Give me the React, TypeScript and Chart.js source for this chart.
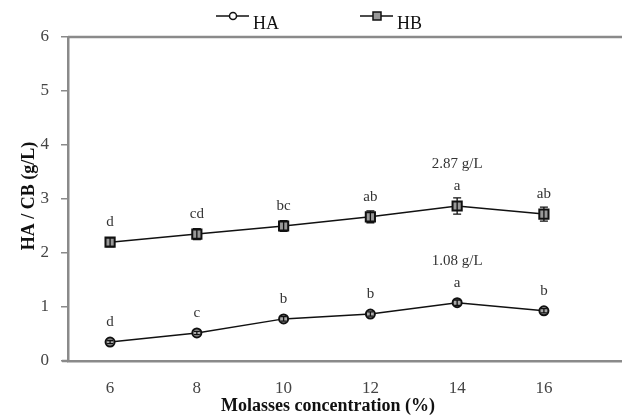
import React, { useEffect, useRef } from "react";
import { Chart, registerables } from "chart.js";

Chart.register(...registerables);

const concentrations = [6, 8, 10, 12, 14, 16];
const xTickLabels = [6, 8, 10, 12, 14, 16];
const yTickLabels = [0, 1, 2, 3, 4, 5, 6];
const haValues = [0.35, 0.52, 0.78, 0.87, 1.08, 0.93];
const hbValues = [2.2, 2.35, 2.5, 2.67, 2.87, 2.72];
const haErrors = [0.03, 0.03, 0.04, 0.04, 0.05, 0.04];
const hbErrors = [0.08, 0.1, 0.1, 0.11, 0.15, 0.13];
const haLetters = ["d", "c", "b", "b", "a", "b"];
const hbLetters = ["d", "cd", "bc", "ab", "a", "ab"];
const haPeakLabel = ["", "", "", "", "1.08 g/L", ""];
const hbPeakLabel = ["", "", "", "", "2.87 g/L", ""];
const seriesNames = ["HA", "HB"];
const xTitle = "Molasses concentration (%)";
const yTitle = "HA / CB (g/L)";

const SERIF = "'Liberation Serif', 'Times New Roman', serif";
const AXIS_GRAY = "#8a8a8a";

const decorPlugin = {
  id: "decor",
  beforeDatasetsDraw(chart: any) {
    const ctx = chart.ctx;
    const { left, right, top, bottom } = chart.chartArea;
    ctx.save();
    ctx.strokeStyle = AXIS_GRAY;
    ctx.lineWidth = 2.5;
    ctx.beginPath();
    ctx.moveTo(left, top);
    ctx.lineTo(right, top);
    ctx.stroke();
    ctx.beginPath();
    ctx.moveTo(left - 6, bottom);
    ctx.lineTo(left, bottom);
    ctx.stroke();
    ctx.restore();
  },
  afterDatasetsDraw(chart: any) {
    const ctx = chart.ctx;
    const xs = chart.scales.x;
    const ys = chart.scales.y;
    ctx.save();
    const errs = [haErrors, hbErrors];
    const vals = [haValues, hbValues];
    const capW = [3, 4];
    errs.forEach((err, d) => {
      ctx.strokeStyle = "#111";
      ctx.lineWidth = 1.3;
      err.forEach((e, i) => {
        const x = xs.getPixelForValue(concentrations[i]);
        const y1 = ys.getPixelForValue(vals[d][i] - e);
        const y2 = ys.getPixelForValue(vals[d][i] + e);
        ctx.beginPath();
        ctx.moveTo(x, y1);
        ctx.lineTo(x, y2);
        ctx.moveTo(x - capW[d], y1);
        ctx.lineTo(x + capW[d], y1);
        ctx.moveTo(x - capW[d], y2);
        ctx.lineTo(x + capW[d], y2);
        ctx.stroke();
      });
    });
    ctx.fillStyle = "#333";
    ctx.font = `15px ${SERIF}`;
    ctx.textAlign = "center";
    ctx.textBaseline = "middle";
    const letters = [haLetters, hbLetters];
    const peaks = [haPeakLabel, hbPeakLabel];
    letters.forEach((ls, d) => {
      ls.forEach((l, i) => {
        const x = xs.getPixelForValue(concentrations[i]);
        const y = ys.getPixelForValue(vals[d][i]) - 20;
        ctx.fillText(l, x, y);
        if (peaks[d][i]) ctx.fillText(peaks[d][i], x, y - 22);
      });
    });
    ctx.fillStyle = "#111";
    ctx.font = `bold 18px ${SERIF}`;
    ctx.fillText(xTitle, 328, 406);
    ctx.save();
    ctx.translate(29, 196);
    ctx.rotate(-Math.PI / 2);
    ctx.font = `bold 18px ${SERIF}`;
    ctx.fillText(yTitle, 0, 0);
    ctx.restore();
    const legendX = [216, 360];
    ctx.font = `18px ${SERIF}`;
    ctx.textAlign = "left";
    ctx.textBaseline = "alphabetic";
    seriesNames.forEach((name, d) => {
      const lx = legendX[d];
      const ly = 16;
      ctx.strokeStyle = "#111";
      ctx.lineWidth = 1.5;
      ctx.beginPath();
      ctx.moveTo(lx, ly);
      ctx.lineTo(lx + 33, ly);
      ctx.stroke();
      const cx = lx + 17;
      if (d === 0) {
        ctx.fillStyle = "#fff";
        ctx.beginPath();
        ctx.arc(cx, ly, 3.5, 0, Math.PI * 2);
        ctx.fill();
        ctx.stroke();
      } else {
        ctx.fillStyle = "#999";
        ctx.fillRect(cx - 4, ly - 4, 8, 8);
        ctx.strokeRect(cx - 4, ly - 4, 8, 8);
      }
      ctx.fillStyle = "#111";
      ctx.fillText(name, lx + 37, 29);
    });
    ctx.restore();
  },
};

export default function App() {
  const ref = useRef<HTMLCanvasElement | null>(null);
  useEffect(() => {
    if (!ref.current) return;
    const chart = new Chart(ref.current, {
      type: "line",
      data: {
        datasets: [
          {
            label: seriesNames[0],
            data: concentrations.map((c, i) => ({ x: c, y: haValues[i] })),
            borderColor: "#111",
            borderWidth: 1.5,
            pointStyle: "circle",
            pointRadius: 4.5,
            pointBorderWidth: 2,
            pointBackgroundColor: "#aaa",
            pointBorderColor: "#111",
          },
          {
            label: seriesNames[1],
            data: concentrations.map((c, i) => ({ x: c, y: hbValues[i] })),
            borderColor: "#111",
            borderWidth: 1.5,
            pointStyle: "rect",
            pointRadius: 6.5,
            pointBorderWidth: 2,
            pointBackgroundColor: "#999",
            pointBorderColor: "#111",
          },
        ],
      },
      options: {
        responsive: false,
        animation: false,
        layout: { autoPadding: false, padding: { top: 37, left: 0, right: 0, bottom: 0 } },
        plugins: { legend: { display: false }, tooltip: { enabled: false } },
        scales: {
          x: {
            type: "linear",
            min: 5.03,
            max: 17.8,
            afterBuildTicks: (scale: any) => {
              scale.ticks = xTickLabels.map((v) => ({ value: v }));
            },
            afterFit: (scale: any) => {
              scale.height = 58;
              scale.paddingLeft = 0;
              scale.paddingRight = 0;
            },
            grid: { display: false, drawTicks: false },
            border: { display: true, color: AXIS_GRAY, width: 2.5 },
            ticks: {
              color: "#444",
              padding: 17,
              font: { family: SERIF, size: 17 },
              autoSkip: false,
              maxRotation: 0,
            },
          },
          y: {
            min: 0,
            max: 6,
            afterBuildTicks: (scale: any) => {
              scale.ticks = yTickLabels.map((v) => ({ value: v }));
            },
            afterFit: (scale: any) => {
              scale.width = 68;
            },
            grid: {
              drawOnChartArea: false,
              drawTicks: true,
              tickLength: 7,
              color: AXIS_GRAY,
              lineWidth: 1.5,
            },
            border: { display: true, color: AXIS_GRAY, width: 2.5 },
            ticks: {
              color: "#444",
              padding: 12,
              font: { family: SERIF, size: 17 },
            },
          },
        },
      },
      plugins: [decorPlugin],
    } as any);
    return () => chart.destroy();
  }, []);
  return (
    <div style={{ position: "absolute", left: 0, top: 0, width: 622, height: 419, background: "#fff" }}>
      <canvas ref={ref} width={622} height={419} style={{ display: "block" }} />
    </div>
  );
}
